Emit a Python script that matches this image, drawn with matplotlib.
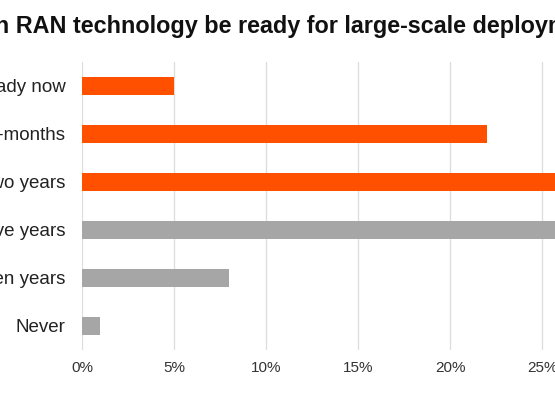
import matplotlib.pyplot as plt
from matplotlib.ticker import PercentFormatter

plt.rcParams['font.family'] = ['Liberation Sans', 'DejaVu Sans']

title = "When will Open RAN technology be ready for large-scale deployment?"
categories = ["Ready now", "Within 18-months", "Within two years",
              "Within five years", "Within ten years", "Never"]
values = [5, 22, 34, 30, 8, 1]
colors = ["#FF5000", "#FF5000", "#FF5000", "#A6A6A6", "#A6A6A6", "#A6A6A6"]
xticks = [0, 5, 10, 15, 20, 25, 30, 35]

fig = plt.figure(figsize=(5.55, 3.93), dpi=100)
# axes deliberately wider than the figure: the picture is a crop
ax = fig.add_axes([82/555, 43/393, 644/555, 288/393])

ypos = list(range(len(categories)))
ax.barh(ypos, values, height=0.36, color=colors, zorder=3)
ax.set_ylim(len(categories) - 0.5, -0.5)
ax.set_xlim(0, 35)
ax.set_yticks(ypos)
ax.set_yticklabels(categories, fontsize=13.5, color="#222222")
ax.set_xticks(xticks)
ax.xaxis.set_major_formatter(PercentFormatter(decimals=0))
ax.tick_params(axis='x', length=0, pad=8, labelsize=11, labelcolor="#333333")
ax.tick_params(axis='y', length=0, pad=12)
ax.grid(axis='x', color="#DDDDDD", linewidth=0.9, zorder=0)
for s in ax.spines.values():
    s.set_visible(False)

# title is cropped too: place it so "When will Ope" falls left of the frame
r = fig.canvas.get_renderer()
tsize = 16.8
tmp = fig.text(0, 0, "When will Open", fontsize=tsize, fontweight='bold')
w = tmp.get_window_extent(renderer=r).width
tmp.remove()
fig.text((9 - w) / 555, 1 - 33 / 393, title, fontsize=tsize,
         fontweight='bold', color="#111111", va='baseline')

fig.savefig("out.png", dpi=100)
